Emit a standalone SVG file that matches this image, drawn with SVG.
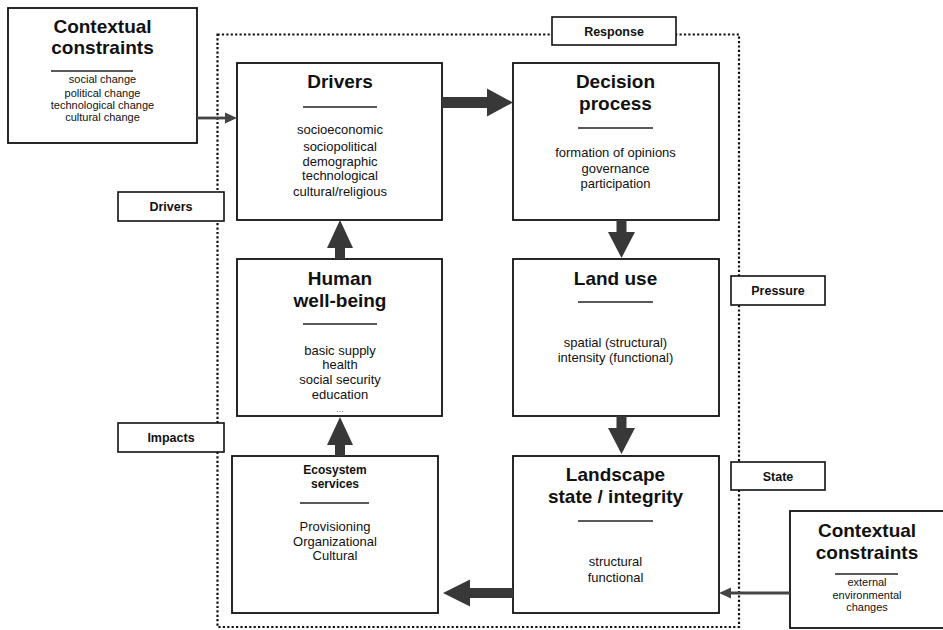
<svg xmlns="http://www.w3.org/2000/svg" width="943" height="630" viewBox="0 0 943 630">
<style>
.box{fill:#fff;stroke:#111;stroke-width:1.8}
.lbl{fill:#fff;stroke:#111;stroke-width:1.6}
.t{font-family:"Liberation Sans",Arial,sans-serif;font-weight:bold;font-size:19px;fill:#111;text-anchor:middle}
.b{font-family:"Liberation Sans",Arial,sans-serif;font-size:13px;fill:#111;text-anchor:middle}
.s{font-family:"Liberation Sans",Arial,sans-serif;font-size:11px;fill:#111;text-anchor:middle}
.l{font-family:"Liberation Sans",Arial,sans-serif;font-weight:bold;font-size:12.5px;fill:#111;text-anchor:middle}
.u{stroke:#222;stroke-width:1.5}
.thick{fill:#383838}
.thin{stroke:#444;stroke-width:2.8;fill:none}
.head{fill:#444}
.dot{fill:none;stroke:#111;stroke-width:2.2;stroke-dasharray:2.2 2.2}
</style>
<rect width="943" height="630" fill="#fff"/>
<g id="boundary">
<rect class="dot" x="217.5" y="34.5" width="521.5" height="592.5"/>
</g>
<g id="label-response"><rect class="lbl" x="552" y="17" width="124" height="28"/><text class="l" x="614" y="35.5">Response</text></g>
<g id="label-drivers"><rect class="lbl" x="118" y="192" width="106" height="29"/><text class="l" x="171" y="211">Drivers</text></g>
<g id="label-impacts"><rect class="lbl" x="118" y="423" width="106" height="29"/><text class="l" x="171" y="442">Impacts</text></g>
<g id="label-pressure"><rect class="lbl" x="731" y="276" width="94" height="29"/><text class="l" x="778" y="295">Pressure</text></g>
<g id="label-state"><rect class="lbl" x="731" y="462" width="94" height="28"/><text class="l" x="778" y="480.5">State</text></g>
<g id="context-top">
<rect class="box" x="8" y="8" width="189" height="135"/>
<text class="t" x="102.5" y="33">Contextual</text>
<text class="t" x="102.5" y="54">constraints</text>
<line class="u" x1="51" y1="71" x2="133" y2="71"/>
<text class="s" x="102.5" y="83">social change</text>
<text class="s" x="102.5" y="97">political change</text>
<text class="s" x="102.5" y="109">technological change</text>
<text class="s" x="102.5" y="121">cultural change</text>
</g>
<g id="context-bottom">
<rect class="box" x="790" y="511" width="160" height="117"/>
<text class="t" x="867" y="537">Contextual</text>
<text class="t" x="867" y="559">constraints</text>
<line class="u" x1="835" y1="574" x2="898" y2="574"/>
<text class="s" x="867" y="586">external</text>
<text class="s" x="867" y="599">environmental</text>
<text class="s" x="867" y="611">changes</text>
</g>
<g id="drivers">
<rect class="box" x="237" y="63" width="205" height="157"/>
<text class="t" x="340" y="88">Drivers</text>
<line class="u" x1="303" y1="107" x2="377" y2="107"/>
<text class="b" x="340" y="134">socioeconomic</text>
<text class="b" x="340" y="151">sociopolitical</text>
<text class="b" x="340" y="166">demographic</text>
<text class="b" x="340" y="180">technological</text>
<text class="b" x="340" y="196">cultural/religious</text>
</g>
<g id="decision">
<rect class="box" x="513" y="63" width="206" height="157"/>
<text class="t" x="615.5" y="88">Decision</text>
<text class="t" x="615.5" y="110">process</text>
<line class="u" x1="578" y1="128" x2="653" y2="128"/>
<text class="b" x="615.5" y="157">formation of opinions</text>
<text class="b" x="615.5" y="173">governance</text>
<text class="b" x="615.5" y="188">participation</text>
</g>
<g id="wellbeing">
<rect class="box" x="237" y="259" width="205" height="157"/>
<text class="t" x="340" y="285">Human</text>
<text class="t" x="340" y="307">well-being</text>
<line class="u" x1="303" y1="324" x2="377" y2="324"/>
<text class="b" x="340" y="355">basic supply</text>
<text class="b" x="340" y="369">health</text>
<text class="b" x="340" y="384">social security</text>
<text class="b" x="340" y="399">education</text>
<text class="s" x="340" y="412" style="font-size:8px" fill="#555">…</text>
</g>
<g id="landuse">
<rect class="box" x="513" y="259" width="206" height="157"/>
<text class="t" x="615.5" y="285">Land use</text>
<line class="u" x1="578" y1="302" x2="653" y2="302"/>
<text class="b" x="615.5" y="347">spatial (structural)</text>
<text class="b" x="615.5" y="362">intensity (functional)</text>
</g>
<g id="ecosystem">
<rect class="box" x="232" y="456" width="206" height="157"/>
<text class="l" x="335" y="474" style="font-size:12px">Ecosystem</text>
<text class="l" x="335" y="488" style="font-size:12px">services</text>
<line class="u" x1="300" y1="503" x2="369" y2="503"/>
<text class="b" x="335" y="531">Provisioning</text>
<text class="b" x="335" y="546">Organizational</text>
<text class="b" x="335" y="560">Cultural</text>
</g>
<g id="landscape">
<rect class="box" x="513" y="456" width="206" height="157"/>
<text class="t" x="615.5" y="481">Landscape</text>
<text class="t" x="615.5" y="503">state / integrity</text>
<line class="u" x1="578" y1="521" x2="653" y2="521"/>
<text class="b" x="615.5" y="566">structural</text>
<text class="b" x="615.5" y="582">functional</text>
</g>
<g id="connectors">
<polygon class="thick" points="442,97 487,97 487,88.5 513,102.5 487,116.5 487,108 442,108"/>
<polygon class="thick" points="616.5,220 626.5,220 626.5,232 635,232 621.5,258 608,232 616.5,232"/>
<polygon class="thick" points="616.5,416 626.5,416 626.5,428 635,428 621.5,454 608,428 616.5,428"/>
<polygon class="thick" points="513,588 470,588 470,579.5 443,593 470,606.5 470,598 513,598"/>
<polygon class="thick" points="335,259 345,259 345,248 353,248 340,220 327,248 335,248"/>
<polygon class="thick" points="335,456 345,456 345,445 353,445 340,417 327,445 335,445"/>
<line class="thin" x1="197" y1="118" x2="226" y2="118"/>
<polygon class="head" points="225,112.5 237,118 225,123.5"/>
<line class="thin" x1="790" y1="593" x2="730" y2="593"/>
<polygon class="head" points="731,587.5 719,593 731,598.5"/>
</g>
</svg>
